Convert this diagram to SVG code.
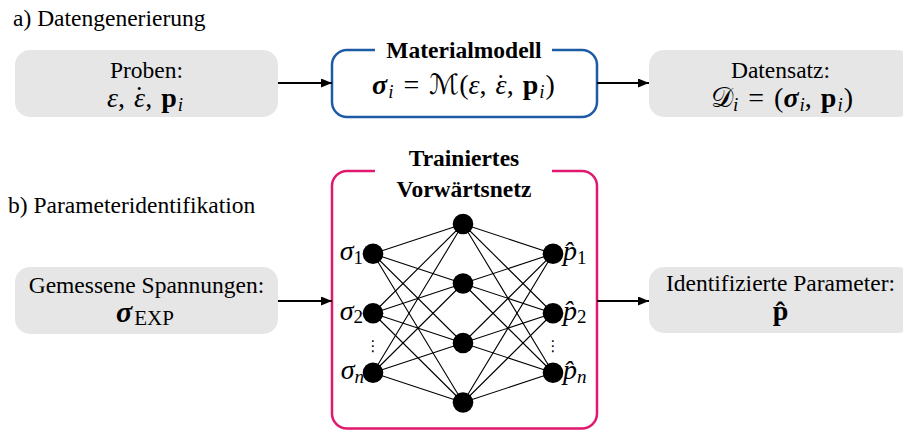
<svg xmlns="http://www.w3.org/2000/svg" width="903" height="431" viewBox="0 0 903 431" font-family="'Liberation Serif', 'Times New Roman', serif" font-size="23.5">
<style>
text{font-family:'Liberation Serif','Times New Roman',serif;font-size:23.5px;fill:#000}
.b{font-weight:bold}
.i{font-style:italic}
.bi{font-weight:bold;font-style:italic}
.m{font-size:28px}
.sub{font-size:19px;font-style:italic}
.subr{font-size:19px}
.cal{font-family:'DejaVu Serif','DejaVu Sans',serif;font-style:normal}
.gray{fill:#e6e6e6;stroke:none}
.blue{fill:none;stroke:#1d5ba4;stroke-width:2.5}
.pink{fill:none;stroke:#e0196f;stroke-width:2.5}
.edge{stroke:#000;stroke-width:1.1;fill:none}
.arr{stroke:#000;stroke-width:2;fill:none;marker-end:url(#ah)}
.nd{fill:#000}
.dots{font-family:'DejaVu Sans',sans-serif;font-size:15px}
</style>
<defs>
<marker id="ah" markerUnits="userSpaceOnUse" markerWidth="11" markerHeight="9" refX="11" refY="4.5" orient="auto">
<path d="M0,0 L11,4.5 L0,9 Z" fill="#000"/>
</marker>
</defs>

<text x="13" y="26">a) Datengenerierung</text>
<text x="8" y="213">b) Parameteridentifikation</text>

<g id="proben">
<rect class="gray" x="15" y="50" width="263" height="67" rx="15"/>
<text x="146.5" y="78" text-anchor="middle">Proben:</text>
<text class="m" x="145" y="106.5" text-anchor="middle"><tspan class="i">ε</tspan>,<tspan dx="2"> </tspan><tspan class="i">ε</tspan><tspan dx="-10.6" dy="-1.5">˙</tspan><tspan dx="1.4" dy="1.5">,</tspan><tspan dx="2"> </tspan><tspan class="b">p</tspan><tspan class="sub" dx="1" dy="4">i</tspan></text>
</g>

<g id="materialmodell">
<path class="blue" d="M375,50 H347 A15,15 0 0 0 332,65 V102 A15,15 0 0 0 347,117 H582 A15,15 0 0 0 597,102 V65 A15,15 0 0 0 582,50 H552"/>
<text class="b" x="464" y="57.5" text-anchor="middle">Materialmodell</text>
<text class="m" x="463.5" y="94" text-anchor="middle"><tspan class="bi">σ</tspan><tspan class="sub" dx="1" dy="4">i</tspan><tspan dx="3" dy="-4"> = </tspan><tspan class="cal" dx="3">ℳ</tspan>(<tspan class="i">ε</tspan>,<tspan dx="2"> </tspan><tspan class="i">ε</tspan><tspan dx="-10.6" dy="-1.5">˙</tspan><tspan dx="1.4" dy="1.5">,</tspan><tspan dx="2"> </tspan><tspan class="b">p</tspan><tspan class="sub" dx="1" dy="4">i</tspan><tspan dx="1" dy="-4">)</tspan></text>
</g>

<g id="datensatz">
<rect class="gray" x="649" y="50" width="263" height="67" rx="15"/>
<text x="780.5" y="78" text-anchor="middle">Datensatz:</text>
<text class="m" x="782" y="106.5" text-anchor="middle"><tspan class="cal">𝒟</tspan><tspan class="sub" dy="4">i</tspan><tspan dx="3" dy="-4"> = </tspan><tspan dx="3">(</tspan><tspan class="bi">σ</tspan><tspan class="sub" dx="1" dy="4">i</tspan><tspan dy="-4">,</tspan><tspan dx="2"> </tspan><tspan class="b">p</tspan><tspan class="sub" dx="1" dy="4">i</tspan><tspan dx="1" dy="-4">)</tspan></text>
</g>

<g id="gemessen">
<rect class="gray" x="15" y="267" width="263" height="67" rx="15"/>
<text x="146.5" y="293" text-anchor="middle">Gemessene Spannungen:</text>
<text x="145" y="322" text-anchor="middle"><tspan class="bi" style="font-size:30px">σ</tspan><tspan dx="2" dy="3" style="font-size:21px">EXP</tspan></text>
</g>

<g id="netz">
<path class="pink" d="M375,171 H347 A15,15 0 0 0 332,186 V413.5 A15,15 0 0 0 347,428.5 H582 A15,15 0 0 0 597,413.5 V186 A15,15 0 0 0 582,171 H552"/>
<text class="b" x="464" y="166" text-anchor="middle">Trainiertes</text>
<text class="b" x="464" y="197" text-anchor="middle">Vorwärtsnetz</text>
</g>

<g id="identifiziert">
<rect class="gray" x="649" y="267" width="263" height="66" rx="15"/>
<text x="780.5" y="291" text-anchor="middle">Identifizierte Parameter:</text>
<text class="b m" x="780.5" y="320" text-anchor="middle">p̂</text>
</g>

<g id="connectors">
<line class="arr" x1="278" y1="83" x2="332" y2="83"/>
<line class="arr" x1="597" y1="83" x2="649" y2="83"/>
<line class="arr" x1="278" y1="301" x2="332" y2="301"/>
<line class="arr" x1="597" y1="301" x2="649" y2="301"/>
<g class="edge">
<path d="M373,253.75 L463,224 M373,253.75 L463,283.5 M373,253.75 L463,343 M373,253.75 L463,402.5"/>
<path d="M373,313.25 L463,224 M373,313.25 L463,283.5 M373,313.25 L463,343 M373,313.25 L463,402.5"/>
<path d="M373,372.75 L463,224 M373,372.75 L463,283.5 M373,372.75 L463,343 M373,372.75 L463,402.5"/>
<path d="M553,253.75 L463,224 M553,253.75 L463,283.5 M553,253.75 L463,343 M553,253.75 L463,402.5"/>
<path d="M553,313.25 L463,224 M553,313.25 L463,283.5 M553,313.25 L463,343 M553,313.25 L463,402.5"/>
<path d="M553,372.75 L463,224 M553,372.75 L463,283.5 M553,372.75 L463,343 M553,372.75 L463,402.5"/>
</g>
</g>

<g id="in1"><circle class="nd" cx="373" cy="253.75" r="10.3"/><text class="m" x="363" y="260" text-anchor="end"><tspan class="i">σ</tspan><tspan class="subr" dy="3.5">1</tspan></text></g>
<g id="in2"><circle class="nd" cx="373" cy="313.25" r="10.3"/><text class="m" x="363" y="319.5" text-anchor="end"><tspan class="i">σ</tspan><tspan class="subr" dy="3.5">2</tspan></text></g>
<g id="in3"><circle class="nd" cx="373" cy="372.75" r="10.3"/><text class="m" x="364" y="379" text-anchor="end"><tspan class="i">σ</tspan><tspan class="sub" dy="3.5">n</tspan></text></g>
<g id="h1"><circle class="nd" cx="463" cy="224" r="10.3"/></g>
<g id="h2"><circle class="nd" cx="463" cy="283.5" r="10.3"/></g>
<g id="h3"><circle class="nd" cx="463" cy="343" r="10.3"/></g>
<g id="h4"><circle class="nd" cx="463" cy="402.5" r="10.3"/></g>
<g id="out1"><circle class="nd" cx="553" cy="253.75" r="10.3"/><text class="m" x="563" y="260"><tspan class="i">p̂</tspan><tspan class="subr" dy="3.5">1</tspan></text></g>
<g id="out2"><circle class="nd" cx="553" cy="313.25" r="10.3"/><text class="m" x="563" y="319.5"><tspan class="i">p̂</tspan><tspan class="subr" dy="3.5">2</tspan></text></g>
<g id="out3"><circle class="nd" cx="553" cy="372.75" r="10.3"/><text class="m" x="563" y="379"><tspan class="i">p̂</tspan><tspan class="sub" dy="3.5">n</tspan></text></g>
<text class="dots" x="373" y="351" text-anchor="middle">⋮</text>
<text class="dots" x="553" y="351" text-anchor="middle">⋮</text>
</svg>
